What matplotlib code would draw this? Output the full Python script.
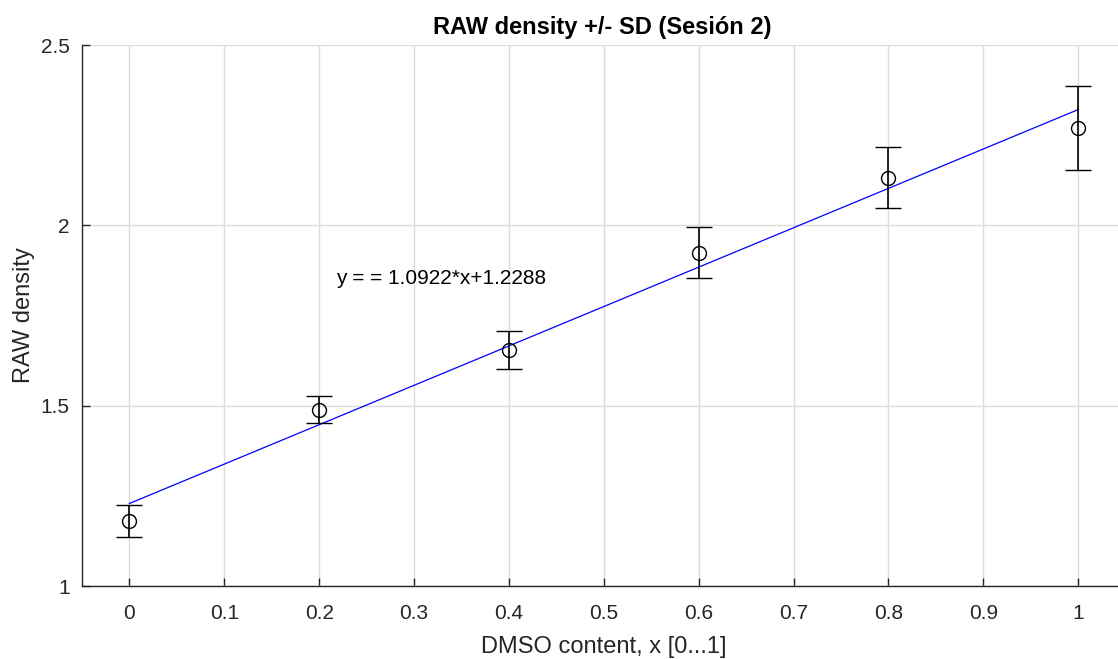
import matplotlib
matplotlib.use("Agg")
import matplotlib.pyplot as plt
import numpy as np

# DMSO content and measured RAW density (mean +/- SD), session 2
dmso = [0.0, 0.2, 0.4, 0.6, 0.8, 1.0]
density_mean = [1.180, 1.489, 1.654, 1.924, 2.132, 2.270]
density_sd = [0.045, 0.038, 0.052, 0.070, 0.085, 0.117]

# Linear fit coefficients
slope = 1.0922
intercept = 1.2288

x_ticks = [0, 0.1, 0.2, 0.3, 0.4, 0.5, 0.6, 0.7, 0.8, 0.9, 1]
x_tick_labels = ["0", "0.1", "0.2", "0.3", "0.4", "0.5", "0.6", "0.7", "0.8", "0.9", "1"]
y_ticks = [1, 1.5, 2, 2.5]
y_tick_labels = ["1", "1.5", "2", "2.5"]

plt.rcParams["font.family"] = ["Liberation Sans", "DejaVu Sans"]
axis_color = "#262626"

W, H = 1118, 659
fig = plt.figure(figsize=(W / 100, H / 100), dpi=100)
left, right, top, bottom = 82, 1125.7, 45, 586
ax = fig.add_axes([left / W, 1 - bottom / H, (right - left) / W, (bottom - top) / H])

ax.set_xlim(-0.05, 1.05)
ax.set_ylim(1, 2.5)

ax.grid(True, color="#dcdcdc", linewidth=1.0)
ax.set_axisbelow(True)

# Fitted line
xf = np.array([0.0, 1.0])
ax.plot(xf, slope * xf + intercept, color="#0000ff", linewidth=0.9, zorder=3)

# Data with error bars
ax.errorbar(dmso, density_mean, yerr=density_sd, fmt="o", markersize=10,
            markerfacecolor="none", markeredgecolor="black", markeredgewidth=1.0,
            ecolor="black", elinewidth=1.2, capsize=9.5, capthick=1.2, zorder=4)

ax.text(0.218, 1.853, "y = = %.4f*x+%.4f" % (slope, intercept),
        fontsize=15, color="black", va="center", ha="left")

ax.set_xticks(x_ticks)
ax.set_xticklabels(x_tick_labels)
ax.set_yticks(y_ticks)
ax.set_yticklabels(y_tick_labels)
ax.tick_params(direction="in", length=5.5, width=1.0, colors=axis_color,
               labelsize=15, pad=13)
ax.tick_params(axis="y", pad=9)

for s in ["top", "right"]:
    ax.spines[s].set_visible(False)
for s in ["left", "bottom"]:
    ax.spines[s].set_color(axis_color)
    ax.spines[s].set_linewidth(1.0)

ax.set_xlabel("DMSO content, x [0...1]", fontsize=17, color=axis_color, labelpad=9)
ax.set_ylabel("RAW density", fontsize=17, color=axis_color, labelpad=4)
ax.set_title("RAW density +/- SD (Sesión 2)", fontsize=17, fontweight="bold",
             color="black", pad=8)
ax.title.set_position((((602 - left) / (right - left)), 1.0))

fig.savefig("out.png", dpi=100)
